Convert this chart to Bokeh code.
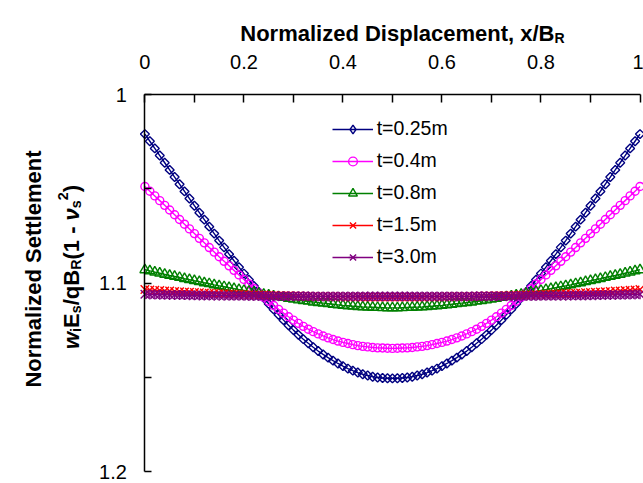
import math
from bokeh.plotting import figure
from bokeh.models import Range1d, FixedTicker, Legend, LegendItem, Label
from bokeh.embed import file_html
from bokeh.resources import INLINE

# ---------------- data ----------------
x_disp = [0.00, 0.01, 0.02, 0.03, 0.04, 0.05, 0.06, 0.07, 0.08, 0.09,
          0.10, 0.11, 0.12, 0.13, 0.14, 0.15, 0.16, 0.17, 0.18, 0.19,
          0.20, 0.21, 0.22, 0.23, 0.24, 0.25, 0.26, 0.27, 0.28, 0.29,
          0.30, 0.31, 0.32, 0.33, 0.34, 0.35, 0.36, 0.37, 0.38, 0.39,
          0.40, 0.41, 0.42, 0.43, 0.44, 0.45, 0.46, 0.47, 0.48, 0.49,
          0.50,
          0.51, 0.52, 0.53, 0.54, 0.55, 0.56, 0.57, 0.58, 0.59, 0.60,
          0.61, 0.62, 0.63, 0.64, 0.65, 0.66, 0.67, 0.68, 0.69, 0.70,
          0.71, 0.72, 0.73, 0.74, 0.75, 0.76, 0.77, 0.78, 0.79, 0.80,
          0.81, 0.82, 0.83, 0.84, 0.85, 0.86, 0.87, 0.88, 0.89, 0.90,
          0.91, 0.92, 0.93, 0.94, 0.95, 0.96, 0.97, 0.98, 0.99, 1.00]

settle_t025 = [1.0210, 1.0248, 1.0286, 1.0324, 1.0362, 1.0400, 1.0438, 1.0476, 1.0514, 1.0552,
               1.0590, 1.0627, 1.0664, 1.0701, 1.0738, 1.0775, 1.0811, 1.0847, 1.0882, 1.0916,
               1.0950, 1.0983, 1.1016, 1.1048, 1.1079, 1.1110, 1.1140, 1.1169, 1.1197, 1.1224,
               1.1250, 1.1275, 1.1298, 1.1320, 1.1341, 1.1361, 1.1379, 1.1396, 1.1412, 1.1427,
               1.1441, 1.1454, 1.1465, 1.1475, 1.1484, 1.1491, 1.1497, 1.1501, 1.1504, 1.1505,
               1.1506,
               1.1505, 1.1504, 1.1501, 1.1497, 1.1491, 1.1484, 1.1475, 1.1465, 1.1454, 1.1441,
               1.1427, 1.1412, 1.1396, 1.1379, 1.1361, 1.1341, 1.1320, 1.1298, 1.1275, 1.1250,
               1.1224, 1.1197, 1.1169, 1.1140, 1.1110, 1.1079, 1.1048, 1.1016, 1.0983, 1.0950,
               1.0916, 1.0882, 1.0847, 1.0811, 1.0775, 1.0738, 1.0701, 1.0664, 1.0627, 1.0590,
               1.0552, 1.0514, 1.0476, 1.0438, 1.0400, 1.0362, 1.0324, 1.0286, 1.0248, 1.0210]

settle_t04 = [1.0488, 1.0513, 1.0538, 1.0563, 1.0588, 1.0613, 1.0638, 1.0663, 1.0688, 1.0713,
              1.0738, 1.0763, 1.0787, 1.0812, 1.0836, 1.0861, 1.0885, 1.0909, 1.0933, 1.0957,
              1.0981, 1.1005, 1.1029, 1.1052, 1.1075, 1.1097, 1.1119, 1.1140, 1.1160, 1.1179,
              1.1197, 1.1214, 1.1230, 1.1245, 1.1258, 1.1270, 1.1281, 1.1291, 1.1300, 1.1308,
              1.1315, 1.1321, 1.1327, 1.1332, 1.1336, 1.1339, 1.1342, 1.1344, 1.1345, 1.1346,
              1.1347,
              1.1346, 1.1345, 1.1344, 1.1342, 1.1339, 1.1336, 1.1332, 1.1327, 1.1321, 1.1315,
              1.1308, 1.1300, 1.1291, 1.1281, 1.1270, 1.1258, 1.1245, 1.1230, 1.1214, 1.1197,
              1.1179, 1.1160, 1.1140, 1.1119, 1.1097, 1.1075, 1.1052, 1.1029, 1.1005, 1.0981,
              1.0957, 1.0933, 1.0909, 1.0885, 1.0861, 1.0836, 1.0812, 1.0787, 1.0763, 1.0738,
              1.0713, 1.0688, 1.0663, 1.0638, 1.0613, 1.0588, 1.0563, 1.0538, 1.0513, 1.0488]

settle_t08 = [1.0930, 1.0936, 1.0942, 1.0948, 1.0954, 1.0960, 1.0965, 1.0971, 1.0977, 1.0982,
              1.0988, 1.0993, 1.0999, 1.1004, 1.1010, 1.1015, 1.1020, 1.1025, 1.1030, 1.1035,
              1.1040, 1.1045, 1.1050, 1.1055, 1.1060, 1.1064, 1.1069, 1.1073, 1.1077, 1.1082,
              1.1086, 1.1090, 1.1094, 1.1097, 1.1101, 1.1104, 1.1107, 1.1110, 1.1113, 1.1116,
              1.1119, 1.1121, 1.1123, 1.1125, 1.1127, 1.1128, 1.1129, 1.1130, 1.1131, 1.1132,
              1.1132,
              1.1132, 1.1131, 1.1130, 1.1129, 1.1128, 1.1127, 1.1125, 1.1123, 1.1121, 1.1119,
              1.1116, 1.1113, 1.1110, 1.1107, 1.1104, 1.1101, 1.1097, 1.1094, 1.1090, 1.1086,
              1.1082, 1.1077, 1.1073, 1.1069, 1.1064, 1.1060, 1.1055, 1.1050, 1.1045, 1.1040,
              1.1035, 1.1030, 1.1025, 1.1020, 1.1015, 1.1010, 1.1004, 1.0999, 1.0993, 1.0988,
              1.0982, 1.0977, 1.0971, 1.0965, 1.0960, 1.0954, 1.0948, 1.0942, 1.0936, 1.0930]

settle_t15 = [1.1035, 1.1037, 1.1039, 1.1040, 1.1042, 1.1043, 1.1045, 1.1046, 1.1048, 1.1049,
              1.1050, 1.1051, 1.1053, 1.1054, 1.1055, 1.1056, 1.1057, 1.1058, 1.1059, 1.1060,
              1.1061, 1.1062, 1.1063, 1.1064, 1.1064, 1.1065, 1.1066, 1.1067, 1.1067, 1.1068,
              1.1069, 1.1069, 1.1070, 1.1070, 1.1071, 1.1071, 1.1071, 1.1072, 1.1072, 1.1072,
              1.1073, 1.1073, 1.1073, 1.1073, 1.1074, 1.1074, 1.1074, 1.1074, 1.1074, 1.1074,
              1.1074,
              1.1074, 1.1074, 1.1074, 1.1074, 1.1074, 1.1074, 1.1073, 1.1073, 1.1073, 1.1073,
              1.1072, 1.1072, 1.1072, 1.1071, 1.1071, 1.1071, 1.1070, 1.1070, 1.1069, 1.1069,
              1.1068, 1.1067, 1.1067, 1.1066, 1.1065, 1.1064, 1.1064, 1.1063, 1.1062, 1.1061,
              1.1060, 1.1059, 1.1058, 1.1057, 1.1056, 1.1055, 1.1054, 1.1053, 1.1051, 1.1050,
              1.1049, 1.1048, 1.1046, 1.1045, 1.1043, 1.1042, 1.1040, 1.1039, 1.1037, 1.1035]

settle_t30 = [1.1060, 1.1061, 1.1061, 1.1062, 1.1062, 1.1063, 1.1063, 1.1064, 1.1064, 1.1065,
              1.1065, 1.1066, 1.1066, 1.1066, 1.1067, 1.1067, 1.1067, 1.1068, 1.1068, 1.1068,
              1.1068, 1.1069, 1.1069, 1.1069, 1.1069, 1.1069, 1.1070, 1.1070, 1.1070, 1.1070,
              1.1070, 1.1070, 1.1070, 1.1070, 1.1071, 1.1071, 1.1071, 1.1071, 1.1071, 1.1071,
              1.1071, 1.1071, 1.1071, 1.1071, 1.1071, 1.1071, 1.1071, 1.1071, 1.1071, 1.1071,
              1.1071,
              1.1071, 1.1071, 1.1071, 1.1071, 1.1071, 1.1071, 1.1071, 1.1071, 1.1071, 1.1071,
              1.1071, 1.1071, 1.1071, 1.1071, 1.1071, 1.1071, 1.1070, 1.1070, 1.1070, 1.1070,
              1.1070, 1.1070, 1.1070, 1.1070, 1.1069, 1.1069, 1.1069, 1.1069, 1.1069, 1.1068,
              1.1068, 1.1068, 1.1068, 1.1067, 1.1067, 1.1067, 1.1066, 1.1066, 1.1066, 1.1065,
              1.1065, 1.1064, 1.1064, 1.1063, 1.1063, 1.1062, 1.1062, 1.1061, 1.1061, 1.1060]

series_labels = ["t=0.25m", "t=0.4m", "t=0.8m", "t=1.5m", "t=3.0m"]

x_ticks = [0.0, 0.2, 0.4, 0.6, 0.8, 1.0]
x_tick_labels = ["0", "0.2", "0.4", "0.6", "0.8", "1"]
x_minor_ticks = [0.1, 0.3, 0.5, 0.7, 0.9]
y_ticks = [1.0, 1.1, 1.2]
y_tick_labels = ["1", "1.1", "1.2"]
y_minor_ticks = [1.05, 1.15]

for s in (settle_t025, settle_t04, settle_t08, settle_t15, settle_t30):
    assert len(s) == len(x_disp)

# ---------------- layout geometry (pixels) ----------------
W_PX, H_PX = 643, 483
X0_PX, X_SCALE = 144.4, 495.1      # canvas x of x=0, px per unit
Y1_PX, Y_SCALE = 94.0, 1885.0      # canvas y of y=1.0, px per unit

x_lo = 0 - X0_PX / X_SCALE
x_hi = 0 + (W_PX - X0_PX) / X_SCALE
y_top = 1.0 - Y1_PX / Y_SCALE
y_bot = 1.0 + (H_PX - Y1_PX) / Y_SCALE

FONT = "Liberation Sans"

p = figure(width=W_PX, height=H_PX,
           x_range=Range1d(x_lo, x_hi), y_range=Range1d(y_bot, y_top),
           x_axis_location="above", output_backend="svg", toolbar_location=None,
           min_border=0, min_border_left=0, min_border_right=0,
           min_border_top=0, min_border_bottom=0)
p.outline_line_color = None
p.xgrid.visible = False
p.ygrid.visible = False
p.background_fill_color = "white"
p.border_fill_color = "white"

xa = p.xaxis[0]
xa.fixed_location = y_ticks[0]
xa.ticker = FixedTicker(ticks=x_ticks, minor_ticks=x_minor_ticks)
xa.major_label_overrides = dict(zip(x_ticks, x_tick_labels))
xa.bounds = (x_ticks[0], x_ticks[-1])
xa.axis_line_color = "black"
xa.axis_line_width = 1.5
xa.major_tick_line_width = 1.5
xa.minor_tick_line_width = 1.5
xa.major_tick_line_color = "black"
xa.minor_tick_line_color = "black"
xa.major_tick_in = 8
xa.major_tick_out = 0
xa.minor_tick_in = 8
xa.minor_tick_out = 0
xa.major_label_standoff = 26
xa.major_label_text_font = FONT
xa.major_label_text_font_size = "20px"
xa.major_label_text_color = "black"

ya = p.yaxis[0]
ya.fixed_location = x_ticks[0]
ya.ticker = FixedTicker(ticks=y_ticks, minor_ticks=y_minor_ticks)
ya.major_label_overrides = dict(zip(y_ticks, y_tick_labels))
ya.bounds = (y_ticks[0], y_ticks[-1])
ya.axis_line_color = "black"
ya.axis_line_width = 1.5
ya.major_tick_line_width = 1.5
ya.minor_tick_line_width = 1.5
ya.major_tick_line_color = "black"
ya.minor_tick_line_color = "black"
ya.major_tick_in = 7
ya.major_tick_out = 0
ya.minor_tick_in = 7
ya.minor_tick_out = 0
ya.major_label_standoff = 18
ya.major_label_text_font = FONT
ya.major_label_text_font_size = "20px"
ya.major_label_text_color = "black"

# ---------------- series ----------------
specs = [
    (series_labels[0], settle_t025, "#000080", "square", 6.3, math.pi / 4),
    (series_labels[1], settle_t04, "#FF00FF", "circle", 8.0, 0.0),
    (series_labels[2], settle_t08, "#008000", "triangle", 10.0, 0.0),
    (series_labels[3], settle_t15, "#FF0000", "x", 12.0, 0.0),
    (series_labels[4], settle_t30, "#800080", "x", 12.0, 0.0),
]

items = []
for lab, ys, color, marker, size, ang in specs:
    rl = p.line(x_disp, ys, line_color=color, line_width=1.4)
    rs = p.scatter(x_disp, ys, marker=marker, size=size, angle=ang,
                   line_color=color, fill_color=None, line_width=1.4)
    rends = [rl, rs]
    if marker == "square":
        # legend-only diamond (the legend does not rotate markers)
        proxy = p.scatter(x=[float("nan")], y=[float("nan")], marker="diamond", size=10,
                          line_color=color, fill_color=None, line_width=1.4)
        rends = [rl, proxy]
    if lab == series_labels[4]:
        # Excel-style star marker: an "x" plus a vertical stroke
        rv = p.scatter(x_disp, ys, marker="dash", size=10, angle=math.pi / 2,
                       line_color=color, fill_color=None, line_width=1.4)
        rends = [rl, rs, rv]
    items.append(LegendItem(label=lab, renderers=rends))

LEG_LEFT_PX, LEG_TOP_PX = 331.7, 122.0
ROW_H, ROW_GAP = 22, 9
leg_h = len(items) * ROW_H + (len(items) - 1) * ROW_GAP
legend = Legend(items=items, location=(LEG_LEFT_PX, H_PX - (LEG_TOP_PX + leg_h)),
                orientation="vertical", padding=0, margin=0, spacing=ROW_GAP,
                glyph_width=41, glyph_height=ROW_H, label_height=ROW_H, label_standoff=4,
                label_text_font=FONT, label_text_font_size="19.5px",
                label_text_color="black",
                border_line_color=None, background_fill_alpha=0)
p.add_layout(legend)

# ---------------- titles ----------------
def lbl(x_px, y_px, text, size, style="bold", align="left", angle=0.0):
    """Label placed by canvas pixel position (y measured from top)."""
    p.add_layout(Label(x=x_px, y=H_PX - y_px, x_units="screen", y_units="screen",
                       text=text, angle=angle, text_align=align,
                       text_baseline="alphabetic", text_font=FONT,
                       text_font_size=f"{size:.1f}px", text_font_style=style,
                       text_color="black"))

# x-axis title (top) with subscript R
lbl(554, 33, "Normalized Displacement, x/B", 22, align="right")
lbl(554, 37, "R", 14)

# y-axis title line 1
lbl(33, 268.5, "Normalized Settlement", 22, align="center", angle=math.pi / 2)

# y-axis title line 2 (with sub/superscripts), drawn bottom-to-top
W_BOLD = {'w': 778, 'i': 278, 'E': 667, 's': 556, '/': 278, 'q': 611, 'B': 722,
          'R': 722, '(': 333, '1': 556, ' ': 278, '-': 333, 'ν': 556, '2': 556, ')': 333}


def text_w(s, size):
    return sum(W_BOLD[c] for c in s) / 1000.0 * size


F = 22.0
SUB = 0.65
pieces = [("w", 1.0, 0, "bold italic"), ("i", SUB, 4, "bold"), ("E", 1.0, 0, "bold"),
          ("s", SUB, 4, "bold"), ("/qB", 1.0, 0, "bold"), ("R", SUB, 4, "bold"),
          ("(1 - ", 1.0, 0, "bold"), ("ν", 1.0, 0, "bold italic"), ("s", SUB, 4, "bold"),
          ("2", SUB, -9, "bold"), (")", 1.0, 0, "bold")]
total_w = sum(text_w(t, F * sc) for t, sc, _, _ in pieces)
pos_px = 266.5 + total_w / 2.0      # canvas y of text start (bottom)
base_x = 71
for t, sc, dx, st in pieces:
    lbl(base_x + dx, pos_px, t, F * sc, style=st, angle=math.pi / 2)
    pos_px -= text_w(t, F * sc)

open("out.html", "w").write(file_html(p, INLINE))
